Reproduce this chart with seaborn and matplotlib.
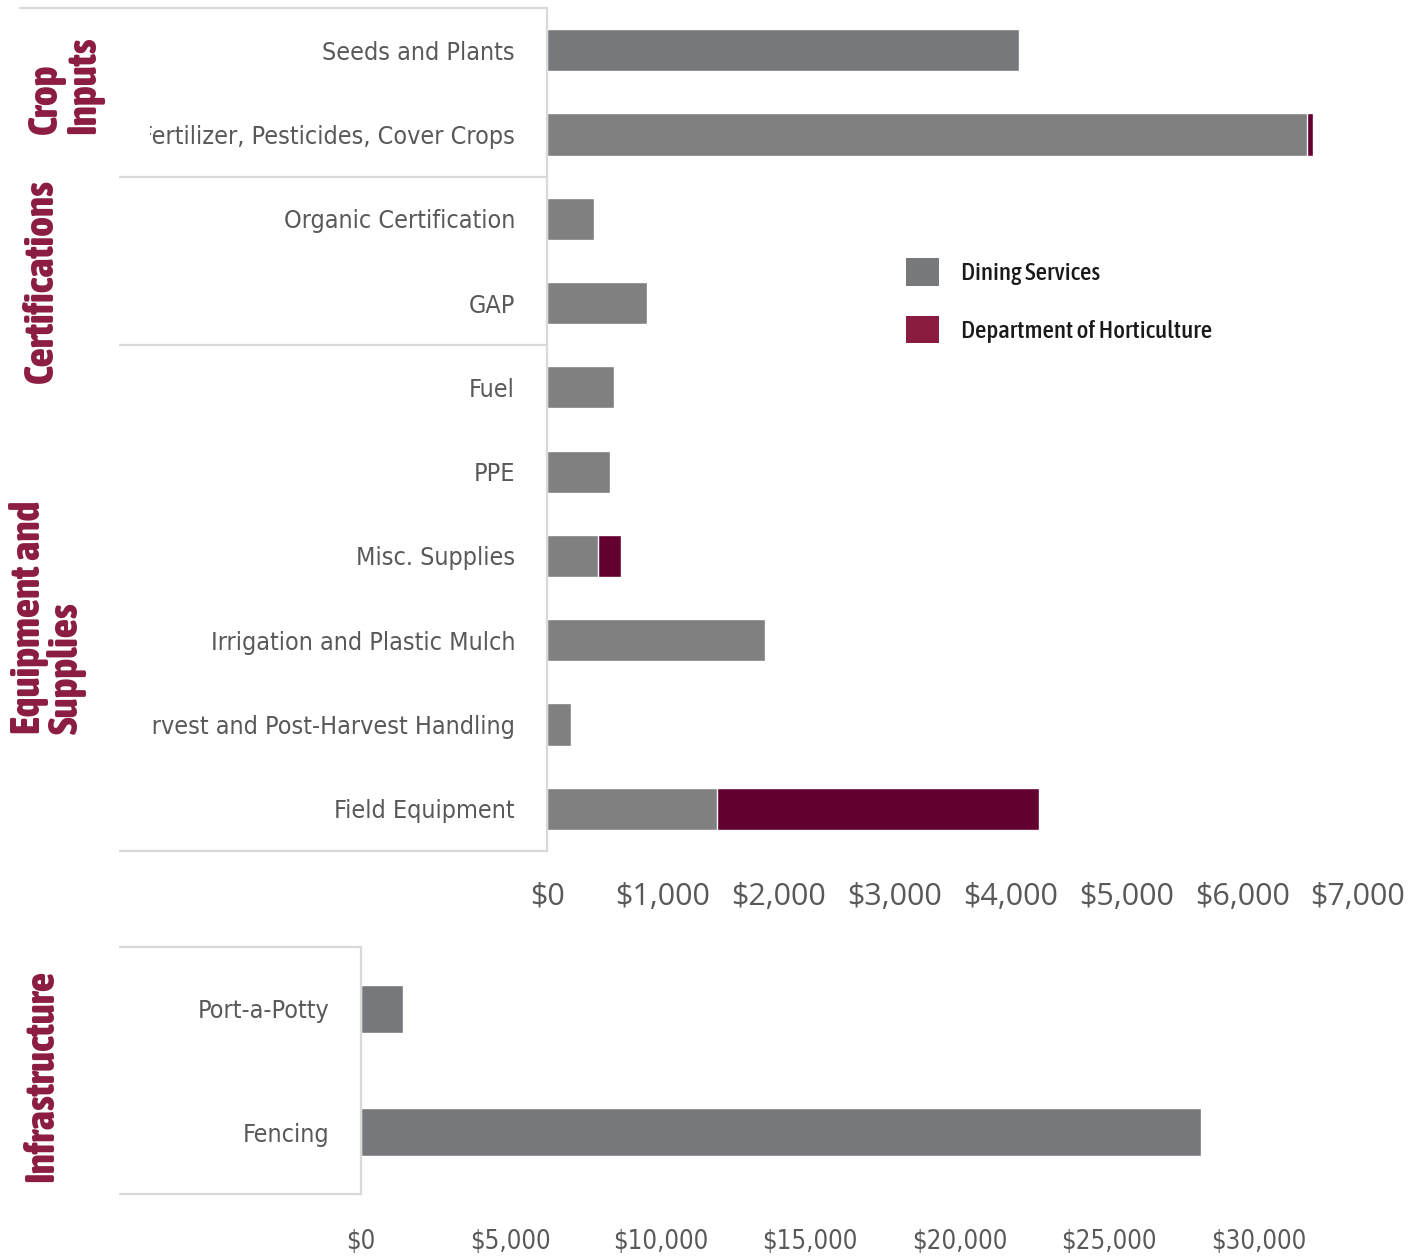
import numpy as np
import pandas as pd
import matplotlib
matplotlib.use("Agg")
import matplotlib.pyplot as plt
import seaborn as sns
from matplotlib.lines import Line2D
from matplotlib.patches import Patch, Rectangle
from matplotlib import font_manager
import matplotlib.transforms as mtransforms

# ---------------- data ----------------
categories = ["Seeds and Plants", "Fertilizer, Pesticides, Cover Crops",
              "Organic Certification", "GAP", "Fuel", "PPE", "Misc. Supplies",
              "Irrigation and Plastic Mulch", "Harvest and Post-Harvest Handling",
              "Field Equipment"]
dining = [4070, 6557, 405, 863, 578, 544, 440, 1881, 207, 1467]
horticulture = [0, 52, 8, 0, 0, 0, 198, 0, 0, 2778]
group_labels = ["Crop\nInputs", "Certifications", "Equipment and\nSupplies"]
group_sizes = [2, 2, 6]

infra_categories = ["Port-a-Potty", "Fencing"]
infra_dining = [1403, 28060]
infra_label = "Infrastructure"

top_ticks = [0, 1000, 2000, 3000, 4000, 5000, 6000, 7000]
bottom_ticks = [0, 5000, 10000, 15000, 20000, 25000, 30000]
series_names = ["Dining Services", "Department of Horticulture"]

# ---------------- styling ----------------
GRAY = "#808080"
GRAY_DARK = "#76787b"
MAROON_BAR = "#630030"
MAROON = "#8a1c40"
LABEL = "#595959"
LINE = "#d9d9d9"

sns.set_style("white")

STRETCH_NUM = {"ultra-condensed": 1, "extra-condensed": 2, "condensed": 3,
               "semi-condensed": 4}

def _weight(f):
    w = f.weight
    if isinstance(w, (int, float)):
        return int(w)
    w = str(w).lower()
    table = {"thin": 100, "extralight": 200, "light": 300, "normal": 400,
             "regular": 400, "book": 400, "medium": 500, "semibold": 600,
             "demibold": 600, "bold": 700, "extrabold": 800, "heavy": 900,
             "black": 900}
    return table.get(w, 400)

def _stretch(f):
    s = f.stretch
    if isinstance(s, (int, float)):
        if s <= 300: return 2
        if s <= 400: return 3
        if s <= 450: return 4
        return 5
    s = str(s)
    if s in STRETCH_NUM:
        return STRETCH_NUM[s]
    if "ExtraCondensed" in f.name or "Extra Condensed" in f.name:
        return 2
    if "SemiCondensed" in f.name or "Semi Condensed" in f.name:
        return 4
    if "Condensed" in f.name or "Narrow" in f.name:
        return 3
    return 5

def find_font(target_weight, stretch_order, max_wdiff=1000):
    best = None
    for f in font_manager.fontManager.ttflist:
        if f.style != "normal":
            continue
        st = _stretch(f)
        if st not in stretch_order:
            continue
        wd = abs(_weight(f) - target_weight)
        if wd > max_wdiff:
            continue
        key = (stretch_order.index(st), wd)
        if best is None or key < best[0]:
            best = (key, f.fname)
    return best[1] if best else None

def fprops(path, size, fallback_weight="normal"):
    if path:
        return font_manager.FontProperties(fname=path, size=size)
    return font_manager.FontProperties(family=["Roboto", "DejaVu Sans"],
                                       weight=fallback_weight, size=size)

reg_path = find_font(400, [3, 2, 4], max_wdiff=150)
med_path = find_font(500, [3, 2, 4], max_wdiff=150)
bold_path = find_font(800, [3, 4, 2])

fp_label = fprops(reg_path, 18)
fp_legend = fprops(med_path, 18)
fp_group = fprops(bold_path, 30, "bold")
fp_bticks = fprops(reg_path, 18.5)
fp_ticks = font_manager.FontProperties(family=["Open Sans", "DejaVu Sans"], size=22)

W, H = 1418, 1259
fig = plt.figure(figsize=(W / 100, H / 100), dpi=100)

# ---------------- top panel ----------------
ax = fig.add_axes([547 / W, 1 - 851 / H, 811 / W, 843 / H])
df = pd.DataFrame({"category": categories, "dining": dining,
                   "horticulture": horticulture})
df["total"] = df["dining"] + df["horticulture"]

sns.barplot(data=df, y="category", x="total", color=MAROON_BAR, width=0.5,
            orient="h", ax=ax, saturation=1)
dining_pal = [GRAY_DARK] + [GRAY] * (len(categories) - 1)
sns.barplot(data=df, y="category", x="dining", hue="category",
            palette=dining_pal, width=0.5, orient="h", ax=ax,
            saturation=1, legend=False)

ax.set_xlim(0, 7000)
ax.set_xticks(top_ticks)
ax.set_xticklabels([f"${v:,.0f}" for v in top_ticks])
ax.set_xlabel("")
ax.set_ylabel("")
for s in ["top", "right", "bottom"]:
    ax.spines[s].set_visible(False)
ax.spines["left"].set_color(LINE)
ax.spines["left"].set_linewidth(1.6)
ax.tick_params(axis="x", length=0, pad=22, colors=LABEL)
ax.tick_params(axis="y", length=0, pad=23, colors=LABEL)
for t in ax.get_xticklabels():
    t.set_fontproperties(fp_ticks)
for t in ax.get_yticklabels():
    t.set_fontproperties(fp_label)

# clip y labels at the left edge of the label box (as in the original)
clip_rect = Rectangle((150 / W, 0), (547 - 150) / W, 1, transform=fig.transFigure)
for t in ax.get_yticklabels():
    t.set_clip_path(clip_rect)
    t.set_clip_on(True)

# group separators (figure x, data y)
bt = mtransforms.blended_transform_factory(fig.transFigure, ax.transData)
ax_right_fig = 547 / W
bounds = np.cumsum([0] + group_sizes) - 0.5
for i, b in enumerate(bounds):
    x0 = 20 / W if i == 0 else 120 / W
    fig.add_artist(Line2D([x0, ax_right_fig], [b, b], transform=bt,
                          color=LINE, lw=1.6))

# group labels (slightly offset from the group centre, as in the original)
label_x = [65 / W, 42 / W, 48 / W]
label_dy = [7, -20, -19]  # pixels (positive = up)
for lab, lo, hi, lx, dy in zip(group_labels, bounds[:-1], bounds[1:], label_x, label_dy):
    tr = bt + mtransforms.ScaledTranslation(0, dy / 100, fig.dpi_scale_trans)
    fig.text(lx, (lo + hi) / 2, lab, transform=tr, rotation=90,
             ha="center", va="center", multialignment="left",
             color=MAROON, fontproperties=fp_group, linespacing=0.95)

# legend
handles = [Patch(facecolor=GRAY_DARK, edgecolor="none"),
           Patch(facecolor=MAROON, edgecolor="none")]
leg = fig.legend(handles, series_names, loc="upper left",
                 bbox_to_anchor=(906 / W, 1 - 258 / H),
                 bbox_transform=fig.transFigure, frameon=False,
                 prop=fp_legend, handlelength=1.32, handleheight=1.32,
                 handletextpad=0.88, labelspacing=1.2, borderaxespad=0,
                 borderpad=0)
for t in leg.get_texts():
    t.set_color("#1a1a1a")

# ---------------- bottom panel ----------------
ax2 = fig.add_axes([361 / W, 1 - 1194 / H, 898 / W, 247 / H])
df2 = pd.DataFrame({"category": infra_categories, "dining": infra_dining})
sns.barplot(data=df2, y="category", x="dining", color=GRAY_DARK, width=0.39,
            orient="h", ax=ax2, saturation=1)
ax2.set_xlim(0, 30000)
ax2.set_xticks(bottom_ticks)
ax2.set_xticklabels([f"${v:,.0f}" for v in bottom_ticks])
ax2.set_xlabel("")
ax2.set_ylabel("")
for s in ["top", "right", "bottom"]:
    ax2.spines[s].set_visible(False)
ax2.spines["left"].set_color(LINE)
ax2.spines["left"].set_linewidth(1.6)
ax2.tick_params(axis="x", length=0, pad=25, colors=LABEL)
ax2.tick_params(axis="y", length=0, pad=23, colors=LABEL)
for t in ax2.get_xticklabels():
    t.set_fontproperties(fp_bticks)
for t in ax2.get_yticklabels():
    t.set_fontproperties(fp_label)

bt2 = mtransforms.blended_transform_factory(fig.transFigure, ax2.transData)
for b in [-0.5, len(infra_categories) - 0.5]:
    fig.add_artist(Line2D([120 / W, 361 / W], [b, b], transform=bt2,
                          color=LINE, lw=1.6))
tr2 = bt2 + mtransforms.ScaledTranslation(0, -6 / 100, fig.dpi_scale_trans)
fig.text(42 / W, (len(infra_categories) - 1) / 2, infra_label, transform=tr2,
         rotation=90, ha="center", va="center", color=MAROON,
         fontproperties=fp_group)

fig.savefig("out.png", dpi=100)
